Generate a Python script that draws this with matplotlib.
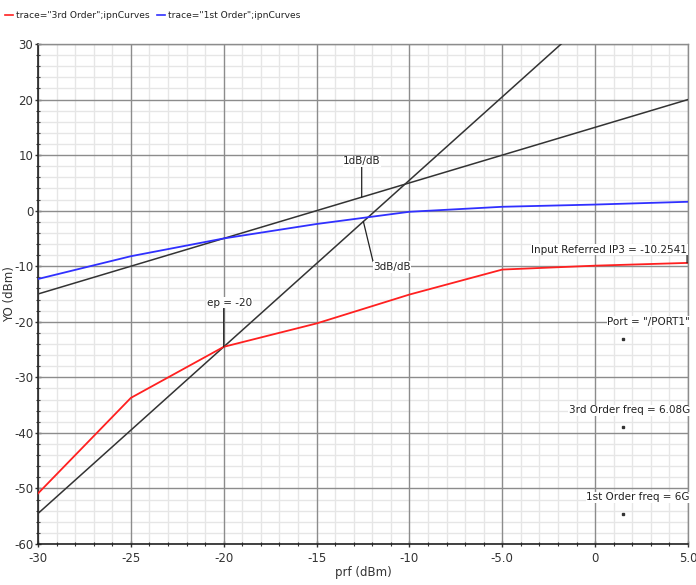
import matplotlib
matplotlib.use('Agg')
import matplotlib.pyplot as plt
from matplotlib.lines import Line2D
from matplotlib.ticker import MultipleLocator, FixedLocator, FixedFormatter
import numpy as np

plt.rcParams['font.family'] = ['DejaVu Sans']
plt.rcParams['axes.unicode_minus'] = False

# input power (dBm)
prf = [-30, -25, -20, -15, -10, -5, 0, 5]
# output curves (dBm)
third_order = [-50.9, -33.7, -24.51, -20.3, -15.1, -10.6, -9.9, -9.4]
first_order = [-12.3, -8.2, -5.0, -2.4, -0.2, 0.7, 1.1, 1.6]

# extrapolation point and slopes
ep = -20
ep_first = -5.0
ep_third = -24.51
ip3 = -10.2541

xticks = [-30, -25, -20, -15, -10, -5, 0, 5]
xtick_labels = ['-30', '-25', '-20', '-15', '-10', '-5.0', '0', '5.0']
yticks = [-60, -50, -40, -30, -20, -10, 0, 10, 20, 30]

# marker dots (labels sit above them)
marker_x = 1.5
marker_y = [-23.1, -38.9, -54.6]
marker_labels = ['Port = "/PORT1"', '3rd Order freq = 6.08G', '1st Order freq = 6G']
marker_label_y = [-20.0, -35.9, -51.6]

fig = plt.figure(figsize=(6.96, 5.85), dpi=100)
ax = fig.add_axes([38 / 696, 41 / 585, 650 / 696, 500 / 585])

# grid: light minor grid, darker major lines on top of it
ax.xaxis.set_major_locator(FixedLocator(xticks))
ax.xaxis.set_major_formatter(FixedFormatter(xtick_labels))
ax.yaxis.set_major_locator(FixedLocator(yticks))
ax.xaxis.set_minor_locator(MultipleLocator(1))
ax.yaxis.set_minor_locator(MultipleLocator(2))
ax.grid(which='minor', color='#e6e6e6', lw=1.0)
ax.set_axisbelow(True)
for xv in xticks:
    ax.axvline(xv, color='#8c8c8c', lw=1.0, zorder=1)
for yv in yticks:
    ax.axhline(yv, color='#8c8c8c', lw=1.0, zorder=1)

# extrapolated lines
xx = np.array([-30, 5])
ax.plot(xx, ep_first + (xx - ep) * 1, color='#333333', lw=1.1, zorder=3)
ax.plot(xx, ep_third + (xx - ep) * 3, color='#333333', lw=1.1, zorder=3)

# curves
ax.plot(prf, third_order, color='#ff2020', lw=1.3, zorder=4)
ax.plot(prf, first_order, color='#3030ff', lw=1.3, zorder=4)

ax.set_xlim(-30, 5)
ax.set_ylim(-60, 30)

for s in ['left', 'bottom']:
    ax.spines[s].set_color('#222222')
    ax.spines[s].set_linewidth(1.2)
for s in ['top', 'right']:
    ax.spines[s].set_color('#8c8c8c')
    ax.spines[s].set_linewidth(1.0)

ax.tick_params(which='major', direction='inout', length=5, width=1, labelsize=8.5,
               colors='#333333', top=False, right=False)
ax.tick_params(which='minor', direction='inout', length=3, width=0.8,
               colors='#333333', top=False, right=False)
ax.tick_params(axis='x', pad=3)
ax.tick_params(axis='y', pad=1)

ax.set_xlabel('prf (dBm)', fontsize=8.5, color='#333333', labelpad=1)
ax.set_ylabel('YO (dBm)', fontsize=8.5, color='#333333')
ax.yaxis.set_label_coords(-0.034, 0.5)

box = dict(boxstyle='square,pad=0.05', fc='white', ec='none')
tfont = dict(fontsize=7.5, color='#222222')

# 1dB/dB label
x1 = -12.57
ax.annotate('1dB/dB', xy=(x1, ep_first + (x1 - ep)), xytext=(-12.55, 8.9),
            ha='center', va='center', bbox=box, zorder=6,
            arrowprops=dict(arrowstyle='-', color='#222222', lw=0.9,
                            shrinkA=0, shrinkB=0, relpos=(0.49, 0)), **tfont)
# 3dB/dB label
x3 = -12.48
ax.annotate('3dB/dB', xy=(x3, ep_third + (x3 - ep) * 3), xytext=(-10.94, -10.14),
            ha='center', va='center', bbox=box, zorder=6,
            arrowprops=dict(arrowstyle='-', color='#222222', lw=0.9,
                            shrinkA=0, shrinkB=0, relpos=(0.0, 1.0)), **tfont)
# ep label
ax.annotate('ep = %d' % ep, xy=(ep, ep_third), xytext=(-19.66, -16.6),
            ha='center', va='center', bbox=box, zorder=6,
            arrowprops=dict(arrowstyle='-', color='#222222', lw=0.9,
                            shrinkA=0, shrinkB=0, relpos=(0.36, 0)), **tfont)
# IP3 label
ax.annotate('Input Referred IP3 = %.4f' % ip3, xy=(4.95, third_order[-1]), xytext=(4.95, -7.0),
            ha='right', va='center', bbox=box, zorder=6,
            arrowprops=dict(arrowstyle='-', color='#222222', lw=0.9,
                            shrinkA=0, shrinkB=0, relpos=(1.0, 0)), **tfont)

# marker labels
for my, lbl, ly in zip(marker_y, marker_labels, marker_label_y):
    ax.plot([marker_x], [my], marker='s', ms=1.5, color='#333333', zorder=6)
    ax.text(5.1, ly, lbl, ha='right', va='center', bbox=box, zorder=6,
            clip_on=False, **tfont)

# legend at top
ly_fig = 1 - 15 / 585
fig.add_artist(Line2D([5 / 696, 13 / 696], [ly_fig, ly_fig], color='#ff2020', lw=1.2))
fig.text(16 / 696, ly_fig, 'trace="3rd Order";ipnCurves', ha='left', va='center',
         fontsize=6.6, color='#222222')
fig.add_artist(Line2D([157 / 696, 165 / 696], [ly_fig, ly_fig], color='#3030ff', lw=1.2))
fig.text(168 / 696, ly_fig, 'trace="1st Order";ipnCurves', ha='left', va='center',
         fontsize=6.6, color='#222222')

plt.savefig('out.png', dpi=100)
plt.close()
